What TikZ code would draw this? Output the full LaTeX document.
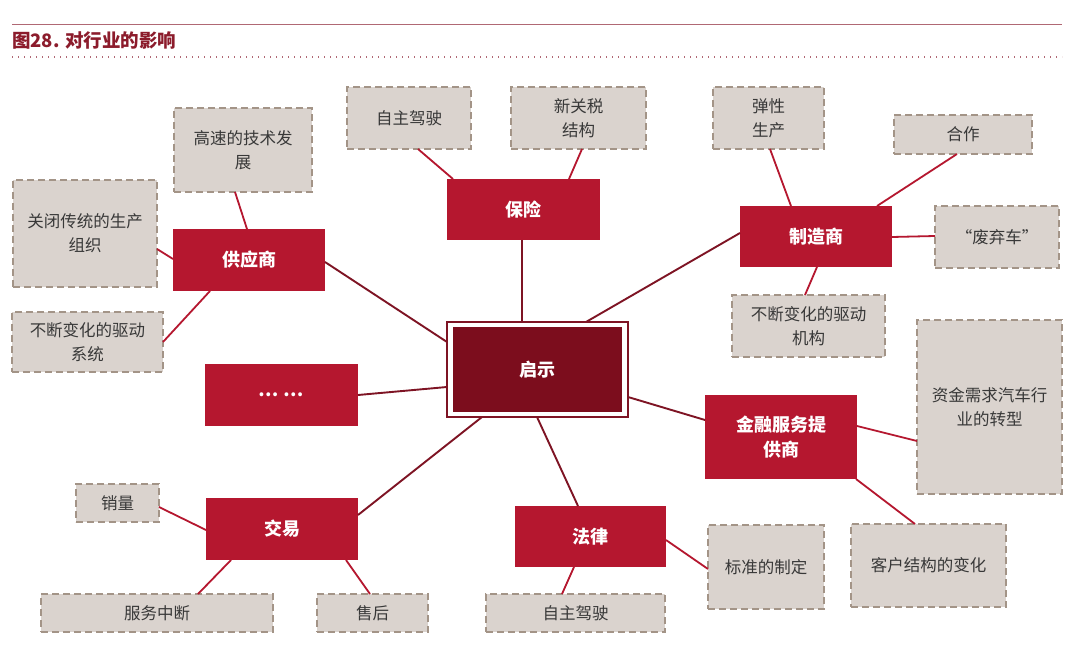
\documentclass[tikz,border=0pt]{standalone}
\usepackage{fontspec}
\newfontfamily\cjk{Noto Sans CJK SC}
\usetikzlibrary{calc}
\definecolor{redfill}{HTML}{B5172F}
\definecolor{darkfill}{HTML}{7C0D1D}
\definecolor{darkline}{HTML}{7E1424}
\definecolor{brightline}{HTML}{B5172F}
\definecolor{gfill}{HTML}{DAD3CE}
\definecolor{gdash}{HTML}{A39487}
\definecolor{gtext}{HTML}{383838}
\definecolor{titlered}{HTML}{8C1C2C}
\definecolor{rulecol}{HTML}{B06874}
\begin{document}
\begin{tikzpicture}[x=1pt,y=-1pt,
  gbox/.style={draw=gdash, fill=gfill, dash pattern=on 7pt off 4pt, line width=1.6pt,
    inner sep=0pt, outer sep=0pt, text=gtext, align=center,
    font=\cjk\fontsize{16.5}{24}\selectfont},
  rbox/.style={fill=redfill, inner sep=0pt, outer sep=0pt, text=white, align=center,
    font=\cjk\bfseries\fontsize{18}{25}\selectfont},
  cc/.style={draw=darkline, line width=1.9pt},
  gc/.style={draw=brightline, line width=1.8pt}]
\useasboundingbox[fill=white] (0,0) rectangle (1080,655);

% header
\draw[rulecol, line width=1.6pt] (12,24.5) -- (1062,24.5);
\node[anchor=west, inner sep=0pt, text=titlered, font=\cjk\bfseries\fontsize{18.5}{20}\selectfont] (title) at (12,40.5) {图28. 对行业的影响};
\draw[rulecol, line width=1.4pt, dash pattern=on 1.4pt off 4.6pt] (12,57) -- (1062,57);

% centre
\node[draw=darkline, line width=1.5pt, fill=white, inner sep=0pt, outer sep=0pt, minimum width=181pt, minimum height=95pt] (c) at (537.5,369.5) {};
\node[fill=darkfill, inner sep=0pt, outer sep=0pt, minimum width=169pt, minimum height=84pt, text=white, font=\cjk\bfseries\fontsize{18}{25}\selectfont] (ci) at (537.5,369.5) {启示};

% red boxes
\node[rbox, minimum width=153pt, minimum height=61pt] (bx) at (523.5,209.5) {保险};
\node[rbox, minimum width=152pt, minimum height=62pt] (gy) at (249,260) {供应商};
\node[rbox, minimum width=152pt, minimum height=61pt] (zz) at (816,236.5) {制造商};
\node[rbox, minimum width=153pt, minimum height=62pt] (dd) at (281.5,395) {…\hspace{5pt}…};
\node[rbox, minimum width=152pt, minimum height=84pt] (jr) at (781,437) {金融服务提\\供商};
\node[rbox, minimum width=152pt, minimum height=62pt] (jy) at (282,529) {交易};
\node[rbox, minimum width=151pt, minimum height=61pt] (fl) at (590.5,536.5) {法律};

% grey boxes
\node[gbox, minimum width=138pt, minimum height=84pt] (g1) at (243,150) {高速的技术发\\展};
\node[gbox, minimum width=144pt, minimum height=107pt] (g2) at (85,233.5) {关闭传统的生产\\组织};
\node[gbox, minimum width=151pt, minimum height=60pt] (g3) at (87.5,342) {不断变化的驱动\\系统};
\node[gbox, minimum width=124pt, minimum height=62pt] (g4) at (409,118) {自主驾驶};
\node[gbox, minimum width=135pt, minimum height=62pt] (g5) at (578.5,118) {新关税\\结构};
\node[gbox, minimum width=111pt, minimum height=62pt] (g6) at (768.5,118) {弹性\\生产};
\node[gbox, minimum width=138pt, minimum height=39pt] (g7) at (963,134.5) {合作};
\node[gbox, minimum width=124pt, minimum height=62pt] (g8) at (997,237) {“废弃车”};
\node[gbox, minimum width=153pt, minimum height=62pt] (g9) at (808.5,326) {不断变化的驱动\\机构};
\node[gbox, minimum width=145pt, minimum height=174pt] (g10) at (989.5,407) {资金需求汽车行\\业的转型};
\node[gbox, minimum width=155pt, minimum height=83pt] (g11) at (928.5,565.5) {客户结构的变化};
\node[gbox, minimum width=116pt, minimum height=84pt] (g12) at (766,567) {标准的制定};
\node[gbox, minimum width=179pt, minimum height=38pt] (g13) at (575.5,613) {自主驾驶};
\node[gbox, minimum width=111pt, minimum height=38pt] (g14) at (372.5,613) {售后};
\node[gbox, minimum width=232pt, minimum height=38pt] (g15) at (157,613) {服务中断};
\node[gbox, minimum width=83pt, minimum height=38pt] (g16) at (117.5,503) {销量};

% centre connectors
\draw[cc] ($(bx.north west)+(75,61)$) -- ($(c.north west)+(75,0)$);
\draw[cc] ($(gy.north west)+(152,33)$) -- ($(c.north west)+(0,20)$);
\draw[cc] ($(zz.north west)+(0,27)$) -- ($(c.north west)+(139,0)$);
\draw[cc] ($(dd.north west)+(153,31)$) -- ($(c.north west)+(0,65)$);
\draw[cc] ($(jr.north west)+(0,25)$) -- ($(c.north west)+(181,75)$);
\draw[cc] ($(jy.north west)+(152,17)$) -- ($(c.north west)+(35,95)$);
\draw[cc] ($(fl.north west)+(63,0)$) -- ($(c.north west)+(90,95)$);

% grey connectors
\draw[gc] ($(g1.north west)+(61,84)$) -- ($(gy.north west)+(74,0)$);
\draw[gc] ($(g2.north west)+(144,69)$) -- ($(gy.north west)+(0,30)$);
\draw[gc] ($(g3.north west)+(151,30)$) -- ($(gy.north west)+(37,62)$);
\draw[gc] ($(g4.north west)+(71,62)$) -- ($(bx.north west)+(6,0)$);
\draw[gc] ($(g5.north west)+(71,62)$) -- ($(bx.north west)+(122,0)$);
\draw[gc] ($(g6.north west)+(57,62)$) -- ($(zz.north west)+(51,0)$);
\draw[gc] ($(g7.north west)+(63,39)$) -- ($(zz.north west)+(137,0)$);
\draw[gc] ($(g8.north west)+(0,30)$) -- ($(zz.north west)+(152,31)$);
\draw[gc] ($(g9.north west)+(73,0)$) -- ($(zz.north west)+(77,61)$);
\draw[gc] ($(g10.north west)+(0,121)$) -- ($(jr.north west)+(152,31)$);
\draw[gc] ($(g11.north west)+(64,0)$) -- ($(jr.north west)+(151,84)$);
\draw[gc] ($(g12.north west)+(0,44)$) -- ($(fl.north west)+(151,34)$);
\draw[gc] ($(g13.north west)+(76,0)$) -- ($(fl.north west)+(59,61)$);
\draw[gc] ($(g14.north west)+(53,0)$) -- ($(jy.north west)+(140,62)$);
\draw[gc] ($(g15.north west)+(157,0)$) -- ($(jy.north west)+(25,62)$);
\draw[gc] ($(g16.north west)+(83,23)$) -- ($(jy.north west)+(0,32)$);
\end{tikzpicture}
\end{document}
